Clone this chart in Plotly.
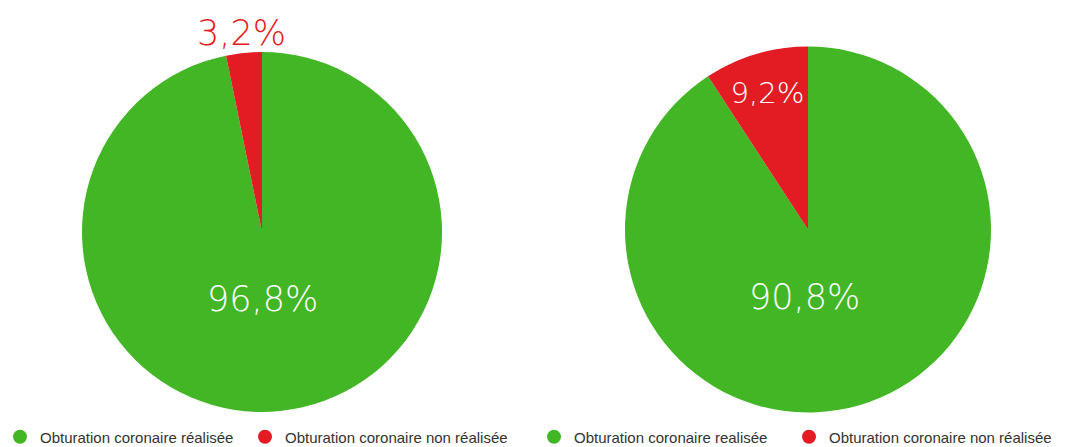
import math
import plotly.graph_objects as go

categories_left = ["Obturation coronaire réalisée", "Obturation coronaire non réalisée"]
categories_right = ["Obturation coronaire realisée", "Obturation coronaire non réalisée"]
values_left = [96.8, 3.2]
values_right = [90.8, 9.2]
labels_left = ["96,8%", "3,2%"]
labels_right = ["90,8%", "9,2%"]

GREEN = "#42b625"
RED = "#e31b23"
W, H = 1066, 447

def dom(box):
    x0, x1, y0, y1 = box
    return dict(x=[x0 / W, x1 / W], y=[1 - y1 / H, 1 - y0 / H])

def geom(box):
    x0, x1, y0, y1 = box
    return (x0 + x1) / 2, (y0 + y1) / 2, (x1 - x0) / 2

fig = go.Figure()
label_font = dict(family="DejaVu Sans ExtraLight, DejaVu Sans", size=35, weight=200)

L_BOX = (82, 442, 52, 412)
R_BOX = (625, 991, 46, 413)

fig.add_trace(go.Pie(
    labels=categories_left, values=values_left,
    textinfo="none", sort=False, direction="clockwise", rotation=0,
    marker=dict(colors=[GREEN, RED], line=dict(width=0)),
    domain=dom(L_BOX), showlegend=False, hoverinfo="label+percent",
))
fig.add_trace(go.Pie(
    labels=categories_right, values=values_right, text=["", labels_right[1]],
    textinfo="text", sort=False, direction="clockwise", rotation=0,
    marker=dict(colors=[GREEN, RED], line=dict(width=0)),
    textposition="inside",
    insidetextorientation="horizontal",
    insidetextfont=dict(color="white", **label_font),
    domain=dom(R_BOX), showlegend=False, hoverinfo="label+percent",
))

# outside label for the small red slice, placed on its bisector
cx, cy, r = geom(L_BOX)
mid = -(values_left[1] / 2) / sum(values_left) * 2 * math.pi
lx = cx + 1.11 * r * math.sin(mid)
ly = cy - 1.11 * r * math.cos(mid)
fig.add_annotation(x=lx / W, y=1 - ly / H, xref="paper", yref="paper",
                   xanchor="center", yanchor="middle",
                   text=labels_left[1], showarrow=False,
                   font=dict(color=RED, **label_font))

# large-slice labels, below each pie centre
for box, txt in [(L_BOX, labels_left[0]), (R_BOX, labels_right[0])]:
    cx, cy, r = geom(box)
    fig.add_annotation(x=(cx - 4 * (box is R_BOX)) / W, y=1 - (cy + 0.37 * r) / H,
                       xref="paper", yref="paper", xanchor="center", yanchor="middle",
                       text=txt, showarrow=False,
                       font=dict(color="white", **label_font))

# legend entries (circle markers), one legend per entry
legend_x = [0, 245, 534, 789]
entries = list(zip(categories_left, [GREEN, RED])) + list(zip(categories_right, [GREEN, RED]))
leg_layout = {}
for i, ((name, col), lxp) in enumerate(zip(entries, legend_x)):
    lid = "legend" if i == 0 else f"legend{i + 1}"
    fig.add_trace(go.Scatter(x=[None], y=[None], mode="markers", name=name,
                             marker=dict(symbol="circle", size=14, color=col),
                             legend=lid))
    leg_layout[lid] = dict(
        orientation="h", yanchor="middle", y=10 / H, xanchor="left", x=lxp / W,
        font=dict(family="Liberation Sans, Arial", size=15, color="#333333"),
        bgcolor="rgba(0,0,0,0)", itemwidth=30)

fig.update_layout(
    width=W, height=H,
    margin=dict(l=0, r=0, t=0, b=0, autoexpand=False),
    paper_bgcolor="white", plot_bgcolor="white",
    xaxis=dict(visible=False), yaxis=dict(visible=False),
    **leg_layout,
)
fig.write_html("out.html", config={"displayModeBar": False},
               post_script="document.body.style.margin='0';")
